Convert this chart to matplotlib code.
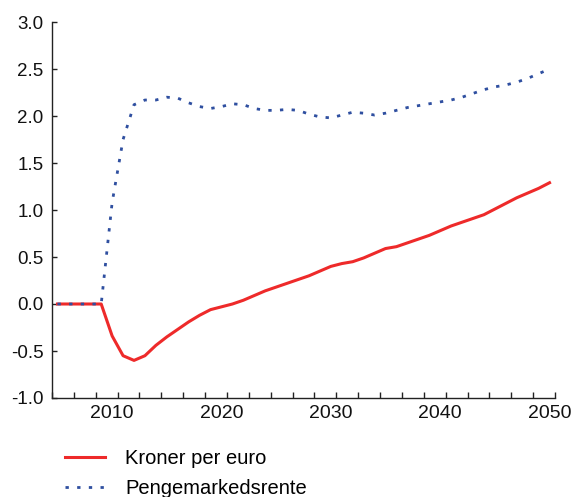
import matplotlib
matplotlib.use("Agg")
import matplotlib.pyplot as plt
from matplotlib.ticker import FixedLocator, NullFormatter, FixedFormatter
import numpy as np

plt.rcParams['font.family'] = ['Liberation Sans', 'DejaVu Sans']

years = list(range(2005, 2051))

kroner_per_euro = [
    0.0, 0.0, 0.0, 0.0, 0.0,                      # 2005-2009
    -0.34, -0.55, -0.60, -0.55, -0.44,            # 2010-2014
    -0.35, -0.27, -0.19, -0.12, -0.06,            # 2015-2019
    -0.03, 0.00, 0.04, 0.09, 0.14,                # 2020-2024
    0.18, 0.22, 0.26, 0.30, 0.35,                 # 2025-2029
    0.40, 0.43, 0.45, 0.49, 0.54,                 # 2030-2034
    0.59, 0.61, 0.65, 0.69, 0.73,                 # 2035-2039
    0.78, 0.83, 0.87, 0.91, 0.95,                 # 2040-2044
    1.01, 1.07, 1.13, 1.18, 1.23,                 # 2045-2049
    1.29,                                         # 2050
]

pengemarkedsrente = [
    0.0, 0.0, 0.0, 0.0, 0.0,                      # 2005-2009
    1.08, 1.75, 2.12, 2.17, 2.17,                 # 2010-2014
    2.20, 2.19, 2.14, 2.10, 2.08,                 # 2015-2019
    2.10, 2.13, 2.12, 2.08, 2.06,                 # 2020-2024
    2.06, 2.07, 2.06, 2.02, 1.99,                 # 2025-2029
    1.98, 2.01, 2.04, 2.03, 2.01,                 # 2030-2034
    2.03, 2.06, 2.09, 2.11, 2.13,                 # 2035-2039
    2.15, 2.17, 2.20, 2.24, 2.28,                 # 2040-2044
    2.31, 2.33, 2.36, 2.40, 2.45,                 # 2045-2049
    2.50,                                         # 2050
]

x_labels = ['2010', '2020', '2030', '2040', '2050']
y_ticks = [-1.0, -0.5, 0.0, 0.5, 1.0, 1.5, 2.0, 2.5, 3.0]

fig = plt.figure(figsize=(5.72, 4.97), dpi=100)
ax = fig.add_axes([52 / 572, 1 - 398 / 497, (555 - 52) / 572, (398 - 22) / 497])

ax.plot(years, kroner_per_euro, color='#ee2a2a', lw=2.2, label='Kroner per euro', zorder=2)
ax.plot(years, pengemarkedsrente, color='#2f4fa0', lw=2.0, dashes=(1.2, 3.0),
        label='Pengemarkedsrente', zorder=3)

ax.set_xlim(2004.5, 2050.5)
ax.set_ylim(-1.0, 3.0)

# tick marks between categories, labels at the decade points
ax.xaxis.set_major_locator(FixedLocator(np.arange(2004.5, 2051, 2)))
ax.xaxis.set_major_formatter(NullFormatter())
ax.xaxis.set_minor_locator(FixedLocator([int(s) for s in x_labels]))
ax.xaxis.set_minor_formatter(FixedFormatter(x_labels))
ax.tick_params(axis='x', which='major', direction='in', length=4.5, width=1, color='#222222')
ax.tick_params(axis='x', which='minor', length=0, pad=5, labelsize=14, labelcolor='#111111')

ax.set_yticks(y_ticks)
ax.set_yticklabels([f'{v:.1f}' for v in y_ticks])
ax.tick_params(axis='y', direction='in', length=3.5, width=1, pad=6, labelsize=13.5,
               labelcolor='#111111', color='#222222')

for side in ['top', 'right']:
    ax.spines[side].set_visible(False)
for side in ['left', 'bottom']:
    ax.spines[side].set_color('#222222')
    ax.spines[side].set_linewidth(1)

fig.legend(loc='upper left', bbox_to_anchor=(65 / 572, 1 - 449 / 497), frameon=False,
           fontsize=14.5, handlelength=2.0, handletextpad=1.0, labelspacing=0.55,
           borderaxespad=0, borderpad=0)

fig.savefig('out.png', dpi=100)
